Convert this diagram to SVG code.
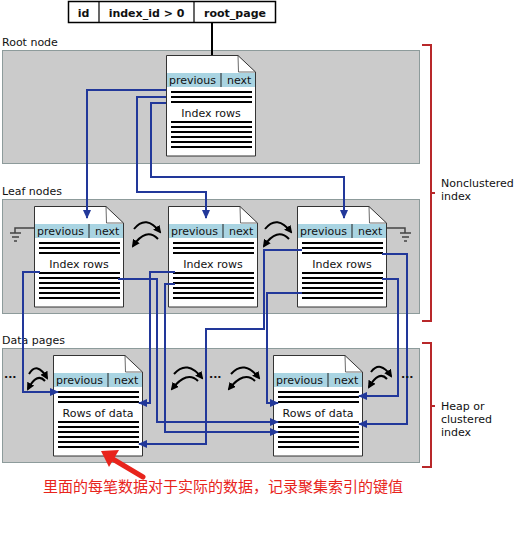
<svg xmlns="http://www.w3.org/2000/svg" xmlns:xlink="http://www.w3.org/1999/xlink" width="520" height="543" viewBox="0 0 520 543">
<style>
text{font-family:"DejaVu Sans","Liberation Sans",sans-serif;font-size:11px;fill:#111}
.bold{font-weight:bold}
.band{fill:#cbcbcb;stroke:#8d9b9b;stroke-width:1}
.conn{fill:none;stroke:#22389a;stroke-width:2}
.arc{fill:none;stroke:#000;stroke-width:2}
.bracket{fill:none;stroke:#b8282a;stroke-width:2}
.gnd{fill:none;stroke:#444;stroke-width:1.5}
.red{font-family:"Noto Sans CJK SC","Noto Sans",sans-serif;font-size:15px;fill:#e8241c}
.mid{text-anchor:middle}
</style>
<defs>
<marker id="ab" markerUnits="userSpaceOnUse" markerWidth="9" markerHeight="8" viewBox="0 0 9 8" refX="8" refY="4" orient="auto"><path d="M0,0 L9,4 L0,8 Z" fill="#22389a"/></marker>
<marker id="ak" markerUnits="userSpaceOnUse" markerWidth="8" markerHeight="8" viewBox="0 0 8 8" refX="6" refY="4" orient="auto"><path d="M0,0 L8,4 L0,8 Z" fill="#000"/></marker>
<g id="page">
<path d="M0.5,0.5 H72 L89.5,17 V101 H0.5 Z" fill="#fff" stroke="#333" stroke-width="1"/>
<rect x="1" y="18" width="88" height="14" fill="#a9d4e2"/>
<path d="M72,0.5 L72.5,17 L89.5,17" fill="none" stroke="#444" stroke-width="0.8"/>
<line x1="55" y1="18" x2="55" y2="32" stroke="#222" stroke-width="1"/>
<path d="M5,37 H86 M5,42 H86 M5,47 H86 M5,67 H86 M5,72 H86 M5,77 H86 M5,82 H86 M5,87 H86 M5,92 H86" stroke="#000" stroke-width="2"/>
<text x="3" y="29">previous</text>
<text x="61" y="29">next</text>
</g>
</defs>
<rect width="520" height="543" fill="#fff"/>

<g id="bands">
<rect class="band" x="2.5" y="50.5" width="417" height="113"/>
<rect class="band" x="2.5" y="199.5" width="417" height="114"/>
<rect class="band" x="2.5" y="348.5" width="417" height="114"/>
<text x="2" y="46">Root node</text>
<text x="2" y="195">Leaf nodes</text>
<text x="2" y="344">Data pages</text>
</g>

<g id="table">
<rect x="68.5" y="1.5" width="207" height="21" fill="#fff" stroke="#000" stroke-width="1.5"/>
<line x1="99" y1="1.5" x2="99" y2="22.5" stroke="#000" stroke-width="1.2"/>
<line x1="194" y1="1.5" x2="194" y2="22.5" stroke="#000" stroke-width="1.2"/>
<text class="bold mid" x="83.5" y="17">id</text>
<text class="bold mid" x="146.5" y="17">index_id &gt; 0</text>
<text class="bold mid" x="235" y="17">root_page</text>
<line x1="212" y1="22.5" x2="212" y2="56" stroke="#000" stroke-width="2"/>
</g>

<g id="root-page" transform="translate(166,55)">
<use xlink:href="#page"/>
<text class="mid" x="45" y="62">Index rows</text>
</g>
<g id="leaf-1" transform="translate(34,206)">
<use xlink:href="#page"/>
<text class="mid" x="45" y="62">Index rows</text>
</g>
<g id="leaf-2" transform="translate(168,206)">
<use xlink:href="#page"/>
<text class="mid" x="45" y="62">Index rows</text>
</g>
<g id="leaf-3" transform="translate(297,206)">
<use xlink:href="#page"/>
<text class="mid" x="45" y="62">Index rows</text>
</g>
<g id="data-1" transform="translate(53,355)">
<use xlink:href="#page"/>
<text class="mid" x="45" y="62">Rows of data</text>
</g>
<g id="data-2" transform="translate(273,355)">
<use xlink:href="#page"/>
<text class="mid" x="45" y="62">Rows of data</text>
</g>

<g id="grounds">
<path class="gnd" d="M34,228 H15 V233 M10,233 H21 M12,237 H19 M14,241 H17"/>
<path class="gnd" d="M387,228 H405 V233 M400,233 H411 M402,237 H409 M404,241 H407"/>
</g>

<g id="connectors">
<path class="conn" marker-end="url(#ab)" d="M166,90 H87 V218"/>
<path class="conn" marker-end="url(#ab)" d="M166,97 H137 V192 H206 V218"/>
<path class="conn" marker-end="url(#ab)" d="M166,103 H151 V177 H344 V218"/>
<path class="conn" marker-end="url(#ab)" d="M40,272 H23 V392 H58"/>
<path class="conn" marker-end="url(#ab)" d="M118,279 H157 V422 H278"/>
<path class="conn" marker-end="url(#ab)" d="M175,272 H150 V403 H139"/>
<path class="conn" marker-end="url(#ab)" d="M175,284 H165 V432 H278"/>
<path class="conn" marker-end="url(#ab)" d="M302,250 H264 V329 H206 V444 H139"/>
<path class="conn" marker-end="url(#ab)" d="M302,293 H267 V403 H278"/>
<path class="conn" marker-end="url(#ab)" d="M382,254 H407 V424 H359"/>
<path class="conn" marker-end="url(#ab)" d="M382,279 H398 V396 H359"/>
</g>

<g id="sibling-links">
<path class="arc" marker-end="url(#ak)" d="M134,229 Q146,214 160,232"/>
<path class="arc" marker-end="url(#ak)" d="M158,239 Q146,227 133,246"/>
<path class="arc" marker-end="url(#ak)" d="M265,229 Q277,214 291,232"/>
<path class="arc" marker-end="url(#ak)" d="M289,239 Q277,227 264,246"/>
<path class="arc" marker-end="url(#ak)" d="M29,374 Q37,361 47,378"/>
<path class="arc" marker-end="url(#ak)" d="M45,381 Q37,372 28,389"/>
<path class="arc" marker-end="url(#ak)" d="M174,374 Q187,359 202,378"/>
<path class="arc" marker-end="url(#ak)" d="M198,381 Q187,370 172,389"/>
<path class="arc" marker-end="url(#ak)" d="M231,374 Q244,359 259,378"/>
<path class="arc" marker-end="url(#ak)" d="M255,381 Q244,370 229,389"/>
<path class="arc" marker-end="url(#ak)" d="M371,372 Q380,360 391,376"/>
<path class="arc" marker-end="url(#ak)" d="M387,379 Q379,370 369,387"/>
<text class="bold" x="4" y="378" font-size="14">...</text>
<text class="bold" x="209" y="378" font-size="14">...</text>
<text class="bold" x="401" y="378" font-size="14">...</text>
</g>

<g id="brackets">
<path class="bracket" d="M422,45 H431 V321 H422 M431,193 H435"/>
<text x="441" y="187">Nonclustered</text>
<text x="441" y="200">index</text>
<path class="bracket" d="M422,343 H431 V467 H422 M431,406 H435"/>
<text x="441" y="410">Heap or</text>
<text x="441" y="423">clustered</text>
<text x="441" y="436">index</text>
</g>

<g id="annotation">
<line x1="143" y1="477" x2="111" y2="458" stroke="#e8241c" stroke-width="5" stroke-linecap="round"/>
<polygon points="101,451 119,450 109,467" fill="#e8241c"/>
<text class="red" x="43" y="492">里面的每笔数据对于实际的数据，记录聚集索引的键值</text>
</g>
</svg>
